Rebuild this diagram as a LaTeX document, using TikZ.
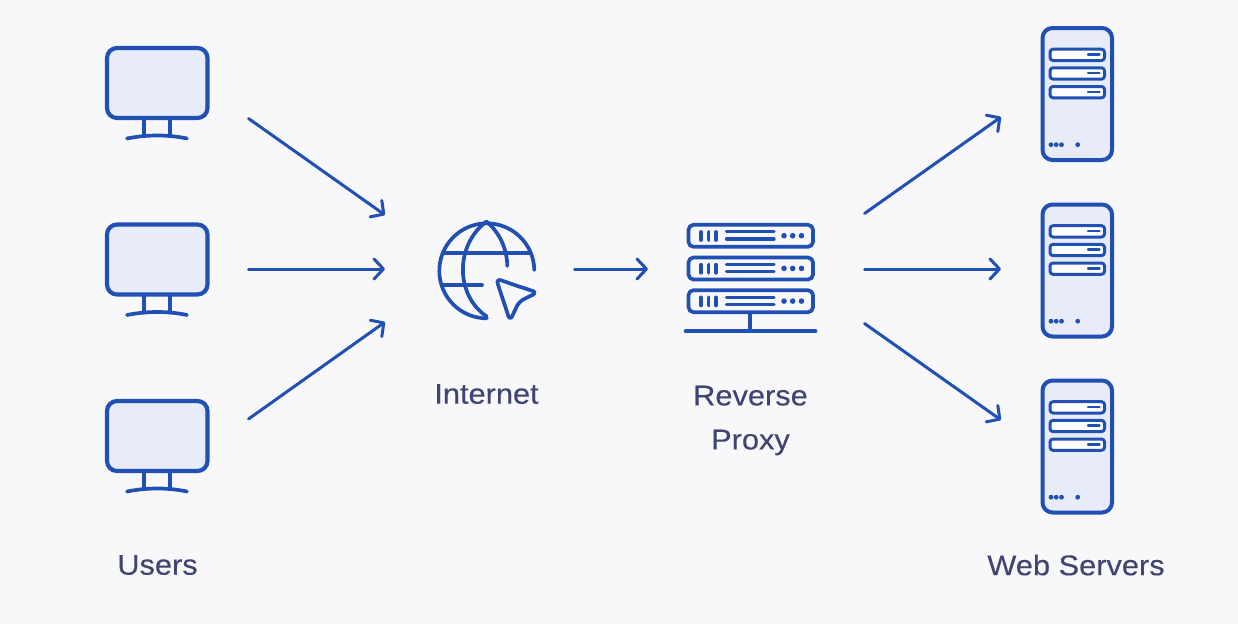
\documentclass[tikz,border=0pt]{standalone}
\usepackage{fontspec}
\setmainfont{Open Sans}
\newfontfamily\lblfont[FakeStretch=1.08,FakeBold=0.25]{Liberation Sans}
\usetikzlibrary{arrows.meta}
\definecolor{bgc}{HTML}{F8F8FB}
\definecolor{blu}{HTML}{2150B4}
\definecolor{lav}{HTML}{E8ECF8}
\definecolor{txt}{HTML}{3F4470}
\tikzset{
  ln/.style={draw=blu,line width=3.7pt,line cap=round,line join=round},
  lbl/.style={text=txt,font=\lblfont\fontsize{28.5}{44}\selectfont,align=center,inner sep=0pt},
  conn/.style={draw=blu,line width=3pt,line cap=round,-{Straight Barb[length=9.5pt,width=20pt,line width=3pt,round]}},
  pics/monitor/.style={code={
    \draw[ln,line width=4.2pt,fill=lav,rounded corners=10pt] (107,48) rectangle (207.5,118);
    \draw[ln] (144,119)--(144,136) (170,119)--(170,136);
    \draw[ln] (127,138.5) .. controls (147,134.5) and (168,134.5) .. (187,138.5);
  }},
  pics/rack/.style={code={
    \draw[ln,rounded corners=5pt] (688.5,224.8) rectangle (813,246.8);
    \draw[ln,line width=3.8pt] (701,232)--(701,240) (708.5,232)--(708.5,240) (716,232)--(716,240);
    \draw[ln,line width=3.2pt] (726.5,231.7)--(774,231.7) (726.5,239)--(774,239);
    \fill[blu] (784,235.7) circle (2.8pt) (792.7,235.7) circle (2.8pt) (801.5,235.7) circle (2.8pt);
  }},
  pics/server/.style={code={
    \draw[ln,line width=4pt,fill=lav,rounded corners=10pt] (1042.5,28) rectangle (1112,160);
    \foreach \yy in {0,18.6,37.3}{
      \draw[ln,line width=3pt,fill=white,rounded corners=3pt] (1050,49.2+\yy) rectangle (1104.5,60.5+\yy);
      \draw[ln,line width=2.4pt] (1088,54.5+\yy)--(1099.5,54.5+\yy);
    }
    \fill[blu] (1051,144.7) circle (2.4pt) (1056.2,144.7) circle (2.4pt) (1061.5,144.7) circle (2.4pt) (1077.7,144.7) circle (2.4pt);
  }}
}
\begin{document}
\begin{tikzpicture}[x=1pt,y=-1pt]
\path[fill=bgc] (0,0) rectangle (1238,624);
\useasboundingbox (0,0) rectangle (1238,624);

% Users
\pic at (0,0) {monitor};
\pic at (0,176.5) {monitor};
\pic at (0,353) {monitor};
\node[lbl] (users) at (157.5,565) {Users};

% Internet globe
\draw[ln] (534.3,270) arc[start angle=-1,end angle=-270,radius=47.5];
\draw[ln] (486.5,221.5) .. controls (455,245) and (455,295) .. (486.7,316.5);
\draw[ln] (486.5,221.5) .. controls (499,232) and (507,248) .. (507.3,266);
\draw[ln] (443,253)--(530,253);
\draw[ln] (443,285)--(482,285);
\draw[ln,rounded corners=5.5pt] (516,285.5)--(537.5,292.5)--(519,301.5)--(510,321)--(496,278.5)--cycle;
\node[lbl] (internet) at (486.5,394) {Internet};

% Reverse proxy
\pic at (0,0) {rack};
\pic at (0,32.7) {rack};
\pic at (0,65.4) {rack};
\draw[ln] (750.3,314)--(750.3,331) (685.5,331.3)--(815.5,331.3);
\node[lbl] (proxy) at (750.5,420.5) {Reverse\\Proxy};

% Web servers
\pic at (0,0) {server};
\pic at (0,176.5) {server};
\pic at (0,352.5) {server};
\node[lbl] (web) at (1076,565) {Web Servers};

% Connector ends
\coordinate (a1) at (248.5,118.5); \coordinate (a2) at (248.5,269); \coordinate (a3) at (248.5,419);
\coordinate (ni) at (385,269); \coordinate (nt) at (385,215); \coordinate (nb) at (385,322);
\coordinate (io) at (574.5,269); \coordinate (pi) at (648,269);
\coordinate (o1) at (864.5,213.5); \coordinate (o2) at (864.5,269); \coordinate (o3) at (864.5,323.5);
\coordinate (s1) at (1001,117); \coordinate (s2) at (1001,269); \coordinate (s3) at (1001,420);
\draw[conn] (a1)--(nt);
\draw[conn] (a2)--(ni);
\draw[conn] (a3)--(nb);
\draw[conn] (io)--(pi);
\draw[conn] (o1)--(s1);
\draw[conn] (o2)--(s2);
\draw[conn] (o3)--(s3);
\end{tikzpicture}
\end{document}
